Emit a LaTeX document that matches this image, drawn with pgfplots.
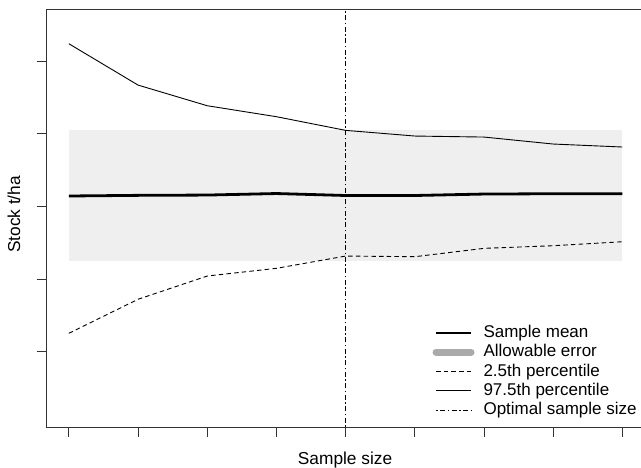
\documentclass[border=0pt]{standalone}
\usepackage{fontspec}
\setmainfont{Liberation Sans}
\usepackage{pgfplots}
\pgfplotsset{compat=1.18}
\definecolor{bandgrey}{HTML}{EFEFEF}
\definecolor{errgrey}{HTML}{AAAAAA}
\definecolor{axgrey}{HTML}{333333}
\begin{document}
\begin{tikzpicture}
\useasboundingbox (0,0) rectangle (641bp,468bp);
\begin{axis}[
  at={(46.7bp,41bp)}, anchor=south west,
  scale only axis, width=597.9bp, height=417.5bp,
  xmin=0.68, xmax=9.32, ymin=-0.036, ymax=5.708,
  xtick={1,...,9}, ytick={1,...,5},
  xticklabels={}, yticklabels={},
  xtick pos=left, ytick pos=left,
  tick align=outside, major tick length=10bp,
  axis line style={axgrey, line width=0.8bp},
  every tick/.style={axgrey, line width=0.8bp},
  font=\fontsize{17.3bp}{20bp}\selectfont,
  xlabel={Sample size}, ylabel={Stock t/ha},
  every axis x label/.style={at={(axis description cs:0.499,-0.091)}, anchor=base},
  every axis y label/.style={at={(axis description cs:-0.055,0.509)}, rotate=90, anchor=center},
  legend style={draw=none, fill=none, at={(axis description cs:0.640,0.016)}, anchor=south west,
    font=\fontsize{17bp}{20bp}\selectfont,
    nodes={text height=12.5bp, text depth=3.5bp, inner ysep=0pt}, row sep=3.3bp},
  legend cell align=left,
  legend image code/.code={\draw[#1] (0bp,0bp) -- (35bp,0bp); \path (42bp,0bp);},
]
\addplot[fill=bandgrey, draw=none, forget plot] coordinates {(1,2.252) (9,2.252) (9,4.05) (1,4.05)} -- cycle;
\addplot[black, line width=2.8bp] coordinates {
(1,3.142) (2,3.151) (3,3.155) (4,3.176) (5,3.149) (6,3.149) (7,3.169) (8,3.173) (9,3.173)};
\addlegendentry{Sample mean}
\addlegendimage{errgrey, line width=7bp, line cap=round}
\addlegendentry{Allowable error}
\addplot[black, line width=0.9bp, dash pattern=on 4.5bp off 3.2bp] coordinates {
(1,1.253) (2,1.721) (3,2.041) (4,2.147) (5,2.316) (6,2.307) (7,2.422) (8,2.458) (9,2.513)};
\addlegendentry{2.5th percentile}
\addplot[black, line width=0.9bp] coordinates {
(1,5.237) (2,4.668) (3,4.384) (4,4.233) (5,4.045) (6,3.967) (7,3.953) (8,3.857) (9,3.816)};
\addlegendentry{97.5th percentile}
\addplot[black, line width=1bp, dash pattern=on 1.5bp off 2.5bp on 5bp off 2.5bp] coordinates {(5,-0.036) (5,5.708)};
\addlegendentry{Optimal sample size}
\end{axis}
\end{tikzpicture}
\end{document}
